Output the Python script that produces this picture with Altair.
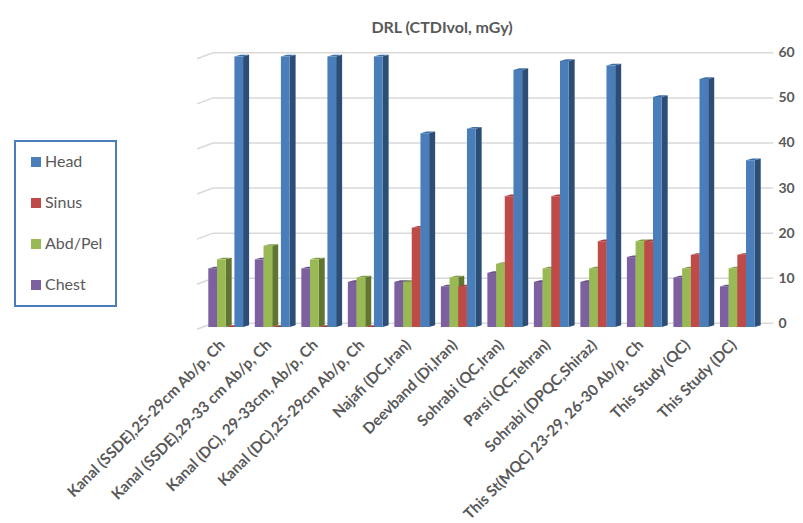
import altair as alt
import pandas as pd

categories = ["Kanal (SSDE),25-29cm Ab/p, Ch", "Kanal (SSDE),29-33 cm Ab/p, Ch", "Kanal (DC), 29-33cm, Ab/p, Ch",
              "Kanal (DC),25-29cm Ab/p, Ch", "Najafi (DC,Iran)", "Deevband (Di,Iran)", "Sohrabi (QC,Iran)",
              "Parsi (QC,Tehran)", "Sohrabi (DPQC,Shiraz)", "This St(MQC) 23-29, 26-30 Ab/p, Ch",
              "This  Study (QC)", "This Study (DC)"]
chest = [13, 15, 13, 10, 10, 9, 12, 10, 10, 15.5, 11, 9]
abd_pel = [15, 18, 15, 11, 10, 11, 14, 13, 13, 19, 13, 13]
sinus = [0, 0, 0, 0, 22, 9, 29, 29, 19, 19, 16, 16]
head = [60, 60, 60, 60, 43, 44, 57, 59, 58, 51, 55, 37]
y_ticks = [0, 10, 20, 30, 40, 50, 60]

series_names = ["Chest", "Abd/Pel", "Sinus", "Head"]
series_values = [chest, abd_pel, sinus, head]
front_colors = {"Head": "#4A7EBB", "Sinus": "#BE4B48", "Abd/Pel": "#98B954", "Chest": "#7D60A0"}
side_colors = {"Head": "#2C4D75", "Sinus": "#772C2A", "Abd/Pel": "#5F7530", "Chest": "#4D3B62"}
top_colors = {"Head": "#3F6FA8", "Sinus": "#A83F3C", "Abd/Pel": "#7F9C45", "Chest": "#6A5088"}

BAR_W, DEPTH_X, DEPTH_Y, FRONT_Y = 0.187, 0.129, 0.38, -0.82

rows = []
for i in range(len(categories)):
    for s, (name, vals) in enumerate(zip(series_names, series_values)):
        xl = i - 2 * BAR_W + s * BAR_W
        xr = xl + BAR_W
        top = vals[i] + FRONT_Y
        base = FRONT_Y
        faces = {
            "side": ([xr, xr + DEPTH_X], [top, top + DEPTH_Y], [base, base + DEPTH_Y], name + " side"),
            "top": ([xl, xl + DEPTH_X, xr, xr + DEPTH_X],
                    [top, top + DEPTH_Y, top + DEPTH_Y, top + DEPTH_Y],
                    [top, top, top, top + DEPTH_Y], name + " top"),
            "front": ([xl, xr], [top, top], [base, base], name),
        }
        for face, (xs, y1s, y2s, fill) in faces.items():
            for x, y1, y2 in zip(xs, y1s, y2s):
                rows.append({"key": f"{i:02d}-{s}-{face}", "px": x, "upper": y1, "lower": y2, "face": fill})
bars = pd.DataFrame(rows)

x_scale = alt.Scale(domain=[-0.617, 11.81], nice=False, zero=False)
y_scale = alt.Scale(domain=[-2.6, 62.4], nice=False, zero=False)

grid = pd.DataFrame({"v": y_ticks, "xa": -0.273, "xb": 11.77})
diag = pd.DataFrame({"v": y_ticks, "vf": [t - 1.33 for t in y_ticks], "xa": -0.617, "xb": -0.273})

GREY = "#595959"
FONT = "Lato"

grid_layer = alt.Chart(grid).mark_rule(color="#D9D9D9", strokeWidth=1.5).encode(
    x=alt.X("xa:Q", scale=x_scale, axis=alt.Axis(
        values=list(range(len(categories))),
        labelExpr="[" + ",".join(repr(c) for c in categories) + "][datum.value]",
        title=None, domain=False, ticks=False, grid=False, labelAngle=315, labelAlign="right",
        labelBaseline="middle", labelFont=FONT, labelFontSize=15.2, labelFontWeight="bold",
        labelColor=GREY, labelOverlap=False, labelBound=False, labelFlush=False, labelPadding=7,
        labelOffset=-4, labelLimit=400)),
    x2="xb:Q",
    y=alt.Y("v:Q", scale=y_scale, axis=alt.Axis(
        orient="right", values=y_ticks, title=None, domain=False, ticks=False, grid=False,
        labelFont=FONT, labelFontSize=14, labelFontWeight="bold", labelColor=GREY, labelPadding=3)),
)
diag_layer = alt.Chart(diag).mark_rule(color="#D9D9D9", strokeWidth=1.5).encode(
    x=alt.X("xa:Q", scale=x_scale), x2="xb:Q",
    y=alt.Y("vf:Q", scale=y_scale), y2="v:Q",
)

legend_order = ["Head", "Sinus", "Abd/Pel", "Chest"]
domain, rng = [], []
for n in legend_order:
    domain += [n, n + " side", n + " top"]
    rng += [front_colors[n], side_colors[n], top_colors[n]]

bar_layer = alt.Chart(bars).mark_area(orient="vertical", opacity=1, interpolate="linear").encode(
    x=alt.X("px:Q", scale=x_scale),
    y=alt.Y("upper:Q", scale=y_scale),
    y2="lower:Q",
    detail="key:N",
    color=alt.Color("face:N", scale=alt.Scale(domain=domain, range=rng), legend=alt.Legend(
        values=legend_order, title=None, orient="none", legendX=-182, legendY=99,
        symbolType="square", symbolSize=100, labelFont=FONT, labelFontSize=16, labelColor=GREY,
        rowPadding=25, padding=13, strokeColor="#4A7EBB", labelOffset=1)),
)

chart = alt.layer(grid_layer, diag_layer, bar_layer).resolve_scale(x="shared", y="shared").properties(
    width=578, height=293,
    autosize=alt.AutoSizeParams(type="none"),
    padding={"left": 189, "top": 34, "right": 20, "bottom": 188},
    title=alt.TitleParams("DRL (CTDIvol, mGy)", anchor="middle", dx=-44, offset=6,
                          font=FONT, fontSize=16, fontWeight="bold", color=GREY),
).configure_view(stroke=None).configure_legend(strokeWidth=2)

chart.save("out.html", embed_options={"renderer": "svg", "actions": False})
